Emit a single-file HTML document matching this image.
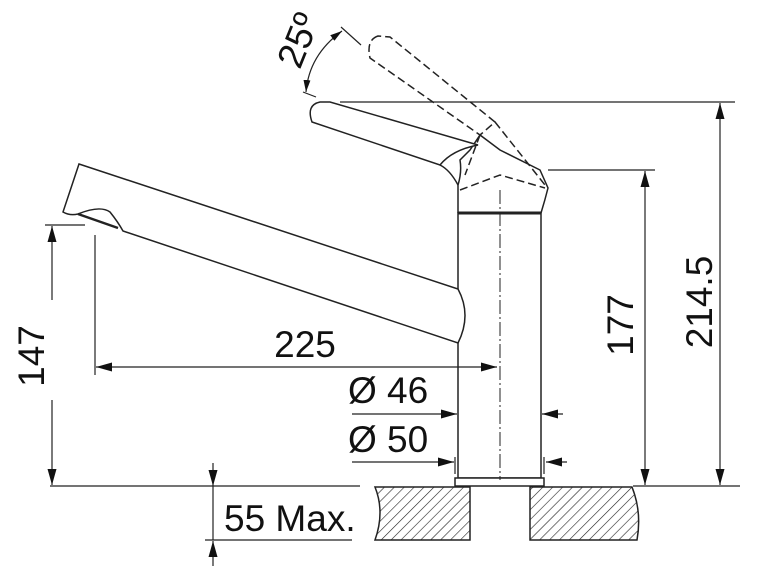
<!DOCTYPE html>
<html><head><style>html,body{margin:0;padding:0;background:#fff}svg{display:block}</style></head><body>
<svg width="762" height="583" viewBox="0 0 762 583" xmlns="http://www.w3.org/2000/svg" font-family="Liberation Sans, sans-serif">
<defs>
<pattern id="h" width="7" height="7" patternUnits="userSpaceOnUse" patternTransform="rotate(45)">
<line x1="0" y1="0" x2="0" y2="7" stroke="#222" stroke-width="1.2"/></pattern>
<marker id="a" markerWidth="16" markerHeight="9" refX="16" refY="4.5" orient="auto" markerUnits="userSpaceOnUse"><path d="M0,0L16,4.5L0,9z" fill="#111"/></marker>
<marker id="b" markerWidth="12" markerHeight="7" refX="12" refY="3.5" orient="auto" markerUnits="userSpaceOnUse"><path d="M0,0L12,3.5L0,7z" fill="#111"/></marker>
<marker id="c" markerWidth="12" markerHeight="7" refX="0" refY="3.5" orient="auto" markerUnits="userSpaceOnUse"><path d="M12,0L0,3.5L12,7z" fill="#111"/></marker>
</defs>
<g fill="none" stroke="#222" stroke-width="1.5">
<rect x="458" y="213" width="83" height="265" fill="#fff"/>
<line x1="458" y1="213" x2="541" y2="213" stroke-width="3"/>
<rect x="455" y="478" width="89" height="8" fill="#fff"/>
<path d="M79,164 L458,289 Q472,315 458,343 L123,231 Q118,222 110,212 Q100,205 78,214 Q70,216 63,212 Z" fill="#fff"/>
<path d="M78,214 L118,228" stroke-width="2.5"/>
<path d="M458,213 L458,185 Q462,172 460,160 L470,150 L480,135 L500,150 L540,170 L548,188 Q545,200 541,213" />
<path d="M460,190 L500,175 L545,188" stroke-dasharray="8,4"/>
<path d="M320,102 Q306,105 312,122 L440,165 Q452,150 478,145 L330,102 Z" fill="#fff"/>
<path d="M440,165 Q450,170 458,185"/>
<path d="M378,36 Q366,40 370,58 L480,135 L495,122 L390,37 Z" stroke-dasharray="8,4"/>
<path d="M495,122 L545,185 M480,135 L465,175" stroke-dasharray="8,4"/>
<line x1="500" y1="190" x2="500" y2="480" stroke-dasharray="14,3,2,3" stroke-width="1"/>
<path d="M375,487 L470,487 L470,540 L375,540 Q385,512 375,487Z" fill="url(#h)"/>
<path d="M530,487 L632,487 Q642,512 637,540 L530,540 Z" fill="url(#h)"/>
</g>
<g stroke="#222" stroke-width="1.2" fill="none">
<line x1="50" y1="486" x2="360" y2="486"/><line x1="633" y1="486" x2="740" y2="486"/>
<line x1="45" y1="225" x2="85" y2="225"/>
<line x1="52" y1="300" x2="52" y2="226" marker-end="url(#a)"/><line x1="52" y1="400" x2="52" y2="485" marker-end="url(#a)"/>
<line x1="95" y1="235" x2="95" y2="375"/>
<line x1="300" y1="367" x2="96" y2="367" marker-end="url(#a)"/><line x1="300" y1="367" x2="497" y2="367" marker-end="url(#a)"/>
<line x1="548" y1="170" x2="655" y2="170"/>
<line x1="645" y1="300" x2="645" y2="171" marker-end="url(#a)"/><line x1="645" y1="300" x2="645" y2="485" marker-end="url(#a)"/>
<line x1="340" y1="102" x2="735" y2="102"/>
<line x1="720" y1="300" x2="720" y2="103" marker-end="url(#a)"/><line x1="720" y1="300" x2="720" y2="485" marker-end="url(#a)"/>
<line x1="352" y1="414" x2="457" y2="414" marker-end="url(#a)"/><line x1="563" y1="414" x2="542" y2="414" marker-end="url(#a)"/>
<line x1="352" y1="462" x2="454" y2="462" marker-end="url(#a)"/><line x1="567" y1="462" x2="546" y2="462" marker-end="url(#a)"/>
<line x1="455" y1="457" x2="455" y2="474"/><line x1="544" y1="457" x2="544" y2="474"/>
<line x1="205" y1="540" x2="352" y2="540"/>
<line x1="213" y1="463" x2="213" y2="486" marker-end="url(#a)"/><line x1="213" y1="566" x2="213" y2="541" marker-end="url(#a)"/>
<line x1="213" y1="486" x2="213" y2="540"/>
<line x1="303" y1="92" x2="316" y2="97"/><line x1="341" y1="27" x2="361" y2="45"/>
<path d="M306,92 Q309,55 342,31" marker-start="url(#c)" marker-end="url(#b)"/>
</g>
<g fill="#111" font-size="37">
<text x="305" y="357" text-anchor="middle">225</text>
<text transform="translate(44,356) rotate(-90)" text-anchor="middle">147</text>
<text transform="translate(633,325) rotate(-90)" text-anchor="middle">177</text>
<text transform="translate(712,302) rotate(-90)" text-anchor="middle">214.5</text>
<text x="348" y="403">Ø 46</text>
<text x="348" y="452">Ø 50</text>
<text x="224" y="531">55 Max.</text>
<text transform="translate(310,45) rotate(-68)" text-anchor="middle">25º</text>
</g>
</svg>
</body></html>
